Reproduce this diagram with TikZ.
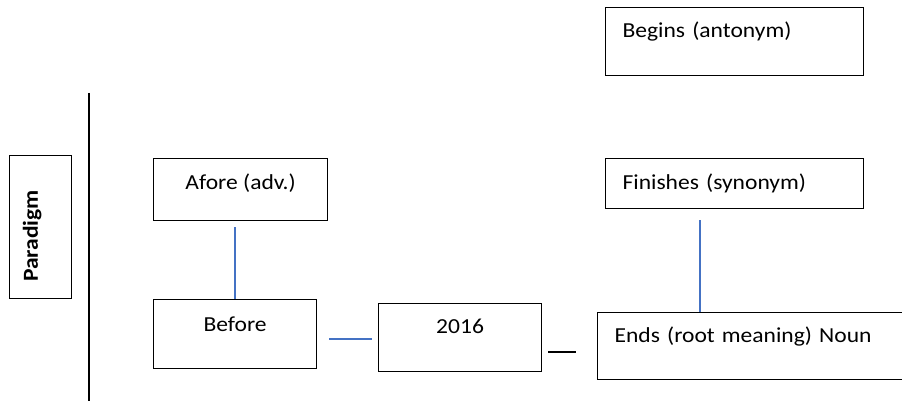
\documentclass[tikz,border=0pt]{standalone}
\usepackage{fontspec}
\setmainfont{Carlito}[FakeStretch=1.1]
\newdimen\px \px=0.5pt
\definecolor{wordblue}{RGB}{68,114,196}
\begin{document}
\begin{tikzpicture}[x=0.5pt, y=-0.5pt,
    box/.style={draw, line width=0.6pt, inner sep=0pt, anchor=north west,
        font=\fontsize{10.7}{13}\selectfont},
    leftbox/.style={box, align=left, inner xsep=17\px},
    link/.style={draw=wordblue, line width=0.75pt},
    plain/.style={draw=black, line width=0.75pt}]
    \clip (0,0) rectangle (902,401);

    % paradigm label and rule
    \node[box, line width=0.45pt, anchor=center, rotate=90, align=left, inner xsep=16\px, text width=111\px,
        text height=29\px, text depth=33\px, font=\fontsize{10.7}{13}\selectfont\bfseries]
        (paradigm) at (40,226.5) {Paradigm};
    \draw[plain] (89,93) -- (89,401);

    % boxes
    \node[box, minimum width=174\px, text height=31\px, text depth=31\px] (afore) at (153,158) {Afore (adv.)};
    \node[box, minimum width=163\px, text height=32\px, text depth=37\px] (before) at (153,299) {Before};
    \node[box, minimum width=163\px, text height=30\px, text depth=38\px] (year) at (378,303) {2016};
    \node[leftbox, text width=224\px, text height=30\px, text depth=38\px] (begins) at (605,7) {Begins (antonym)};
    \node[leftbox, text width=224\px, text height=31\px, text depth=19\px] (finishes) at (605,158) {Finishes (synonym)};
    \node[leftbox, text width=290\px, text height=30\px, text depth=37\px] (ends) at (597,312) {Ends (root meaning) Noun};

    % links
    \draw[link, shorten >=6\px] (before.north -| 235,0) -- (afore.south -| 235,0);
    \draw[link, shorten <=12\px, shorten >=6\px] (before.east |- 0,339) -- (year.west |- 0,339);
    \draw[plain, shorten <=6\px, shorten >=21\px] (year.east |- 0,352) -- (ends.west |- 0,352);
    \draw[link, shorten >=11\px] (ends.north -| 700,0) -- (finishes.south -| 700,0);
\end{tikzpicture}
\end{document}
